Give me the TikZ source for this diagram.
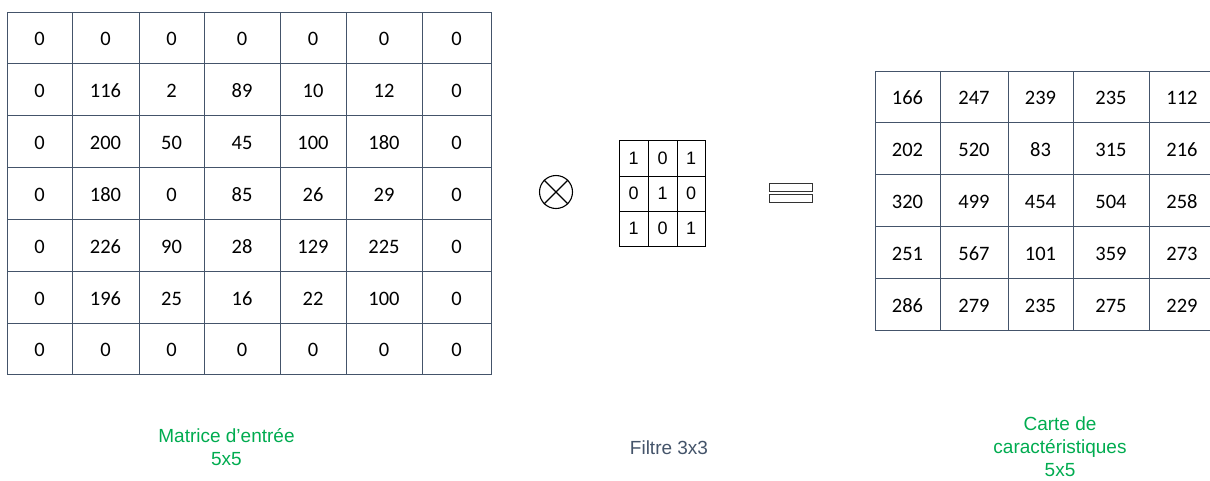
\documentclass[tikz,border=0pt]{standalone}
\usepackage{fontspec}
\setmainfont{Carlito}
\newfontfamily\arialf{Liberation Sans}
\newcommand{\cellnum}[1]{\raisebox{-1.5pt}[\height][0pt]{#1}}
\definecolor{gridc}{RGB}{68,84,106}
\definecolor{greenc}{RGB}{0,172,80}
\definecolor{grayc}{RGB}{68,84,106}
\tikzset{
  cellbox/.style={draw=gridc, line width=1pt, inner sep=0pt, font=\fontsize{20.5}{22}\selectfont, text=black},
  fcell/.style={draw=black, line width=0.9pt, inner sep=0pt, font=\arialf\fontsize{18}{20}\selectfont, text=black},
  eqbar/.style={draw=black!80, line width=1pt, fill=white, inner sep=0pt},
  caption/.style={font=\arialf\fontsize{19}{23}\selectfont, align=center, inner sep=0pt}
}
\begin{document}
\begin{tikzpicture}[x=1pt,y=-1pt]
\clip (0,0) rectangle (1210,480);
\fill[white] (0,0) rectangle (1210,480);
% input matrix
\def\LX{{7,72,139,204,280,346,422,491}}
\def\LY{{12,63,115,167,219,271,323,374}}
\foreach \row [count=\r from 0] in {
  {0,0,0,0,0,0,0},
  {0,116,2,89,10,12,0},
  {0,200,50,45,100,180,0},
  {0,180,0,85,26,29,0},
  {0,226,90,28,129,225,0},
  {0,196,25,16,22,100,0},
  {0,0,0,0,0,0,0}}{
  \foreach \v [count=\c from 0] in \row {
    \pgfmathsetmacro\xa{\LX[\c]}
    \pgfmathsetmacro\xb{\LX[\c+1]}
    \pgfmathsetmacro\ya{\LY[\r]}
    \pgfmathsetmacro\yb{\LY[\r+1]}
    \node[cellbox, minimum width=\xb pt-\xa pt, minimum height=\yb pt-\ya pt]
      (L-\r-\c) at ({(\xa+\xb)/2},{(\ya+\yb)/2}) {\cellnum{\v}};
  }
}
% operator
\node[circle, draw=black, line width=1.1pt, minimum size=33pt, inner sep=0pt] (op) at (556,192) {};
\draw[line width=1.1pt] (op.north west) -- (op.south east);
\draw[line width=1.1pt] (op.north east) -- (op.south west);
% filter
\def\FX{{619,648,677,705}}
\def\FY{{140,176,211,246}}
\foreach \row [count=\r from 0] in {{1,0,1},{0,1,0},{1,0,1}}{
  \foreach \v [count=\c from 0] in \row {
    \pgfmathsetmacro\xa{\FX[\c]}
    \pgfmathsetmacro\xb{\FX[\c+1]}
    \pgfmathsetmacro\ya{\FY[\r]}
    \pgfmathsetmacro\yb{\FY[\r+1]}
    \node[fcell, minimum width=\xb pt-\xa pt, minimum height=\yb pt-\ya pt]
      (F-\r-\c) at ({(\xa+\xb)/2},{(\ya+\yb)/2}) {\v};
  }
}
% equals
\node[eqbar, minimum width=43pt, minimum height=8pt] (eq1) at (790.5,187) {};
\node[eqbar, minimum width=43pt, minimum height=8pt] (eq2) at (790.5,198.3) {};
% output matrix
\def\RX{{875,940,1008,1073,1149,1215}}
\def\RY{{71,122,174,226,278,330}}
\foreach \row [count=\r from 0] in {
  {166,247,239,235,112},
  {202,520,83,315,216},
  {320,499,454,504,258},
  {251,567,101,359,273},
  {286,279,235,275,229}}{
  \foreach \v [count=\c from 0] in \row {
    \pgfmathsetmacro\xa{\RX[\c]}
    \pgfmathsetmacro\xb{\RX[\c+1]}
    \pgfmathsetmacro\ya{\RY[\r]}
    \pgfmathsetmacro\yb{\RY[\r+1]}
    \node[cellbox, minimum width=\xb pt-\xa pt, minimum height=\yb pt-\ya pt]
      (R-\r-\c) at ({(\xa+\xb)/2},{(\ya+\yb)/2}) {\cellnum{\v}};
  }
}
% captions
\node[caption, text=greenc] (capin) at (226.5,447.5) {Matrice d’entrée\\5x5};
\node[caption, text=grayc] (capf) at (669,447.5) {Filtre 3x3};
\node[caption, text=greenc] (capout) at (1060,447) {Carte de\\caractéristiques\\5x5};
\end{tikzpicture}
\end{document}
